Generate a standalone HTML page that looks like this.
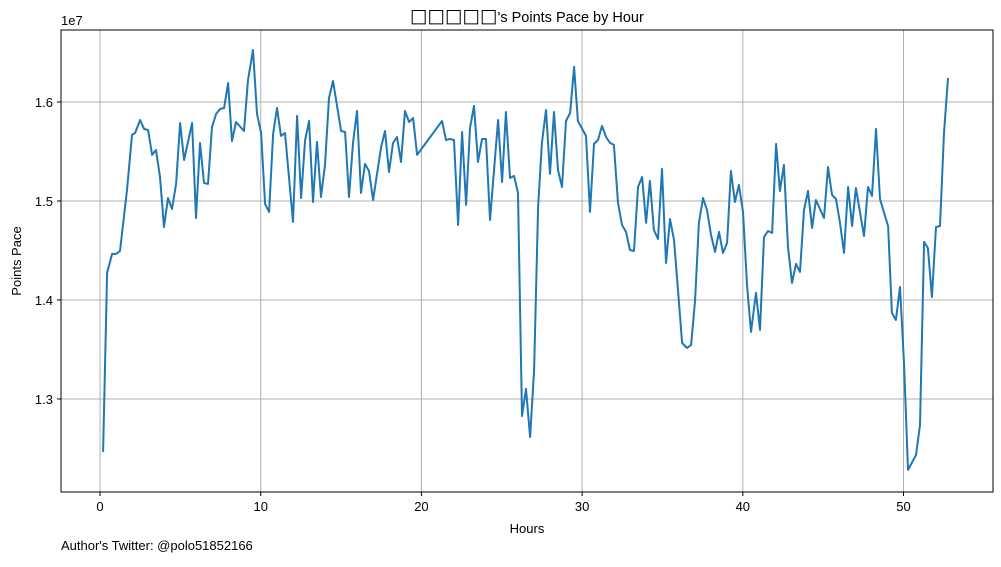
<!DOCTYPE html>
<html><head><meta charset="utf-8"><style>
body{margin:0;background:#fff;width:1001px;height:562px;overflow:hidden}
svg text{font-family:"Liberation Sans","DejaVu Sans",sans-serif;fill:#000}
</style></head><body>
<svg id="chart" width="1001" height="562" xmlns="http://www.w3.org/2000/svg">
<rect width="1001" height="562" fill="#fff"/>
<g id="grid"></g><g id="ticks"></g>
<path id="line" fill="none" stroke="#1f77b4" stroke-width="2" stroke-linejoin="round"/>
<rect x="61" y="30" width="932" height="462" fill="none" stroke="#000" stroke-width="1"/>
<text x="527" y="22" text-anchor="middle" font-size="14.5"><tspan font-size="18.5" font-family="DejaVu Sans">□□□□□</tspan>'s Points Pace by Hour</text>
<text x="527" y="533" text-anchor="middle" font-size="13">Hours</text>
<text transform="translate(21,261) rotate(-90)" text-anchor="middle" font-size="13">Points Pace</text>
<text x="61" y="25" font-size="13">1e7</text>
<text x="61" y="550" font-size="13">Author's Twitter: @polo51852166</text>
</svg>
<script>
const hours=[0.19,0.44,0.75,1.0,1.24,1.68,1.99,2.18,2.49,2.74,2.99,3.24,3.48,3.73,3.98,4.23,4.48,4.73,4.98,5.23,5.73,5.97,6.22,6.47,6.72,6.97,7.22,7.47,7.72,7.97,8.21,8.46,8.96,9.21,9.52,9.77,10.02,10.27,10.52,10.77,11.01,11.26,11.51,12.01,12.26,12.51,12.76,13.01,13.25,13.5,13.75,14.0,14.25,14.5,15.0,15.25,15.49,15.74,15.99,16.24,16.49,16.74,16.99,17.49,17.73,17.98,18.23,18.48,18.73,18.98,19.23,19.48,19.73,21.28,21.53,21.78,22.03,22.28,22.53,22.78,23.02,23.27,23.52,23.77,24.02,24.27,24.77,25.02,25.26,25.51,25.76,26.01,26.26,26.51,26.76,27.01,27.26,27.5,27.75,28.0,28.25,28.5,28.75,29.0,29.25,29.5,29.74,30.24,30.49,30.74,30.99,31.24,31.49,31.74,31.98,32.23,32.48,32.73,32.98,33.23,33.48,33.73,33.98,34.22,34.47,34.72,34.97,35.22,35.47,35.72,35.97,36.22,36.53,36.78,37.03,37.27,37.52,37.77,38.02,38.27,38.52,38.77,39.02,39.26,39.51,39.76,40.01,40.26,40.51,40.82,41.07,41.32,41.57,41.82,42.07,42.31,42.56,42.81,43.06,43.31,43.56,43.81,44.06,44.31,44.55,45.05,45.3,45.55,45.8,46.05,46.3,46.55,46.8,47.04,47.54,47.79,48.04,48.29,48.54,48.79,49.04,49.28,49.53,49.78,50.03,50.28,50.78,51.03,51.28,51.52,51.77,52.02,52.27,52.52,52.77];
const paceE7=[1.2465,1.4273,1.4465,1.4465,1.4495,1.5111,1.5667,1.5687,1.5818,1.5727,1.5717,1.5465,1.5515,1.5242,1.4737,1.5030,1.4919,1.5172,1.5788,1.5414,1.5788,1.4828,1.5586,1.5182,1.5172,1.5747,1.5879,1.5929,1.5939,1.6192,1.5606,1.5798,1.5707,1.6222,1.6525,1.5879,1.5687,1.4970,1.4889,1.5677,1.5939,1.5657,1.5687,1.4788,1.5859,1.5030,1.5616,1.5808,1.4990,1.5596,1.5040,1.5364,1.6040,1.6212,1.5707,1.5697,1.5040,1.5586,1.5909,1.5081,1.5374,1.5303,1.5010,1.5545,1.5707,1.5293,1.5586,1.5646,1.5394,1.5909,1.5798,1.5838,1.5465,1.5808,1.5616,1.5626,1.5616,1.4758,1.5697,1.4960,1.5737,1.5960,1.5394,1.5626,1.5626,1.4808,1.5818,1.5192,1.5899,1.5232,1.5253,1.5081,1.2828,1.3101,1.2616,1.3293,1.4939,1.5586,1.5919,1.5273,1.5899,1.5313,1.5141,1.5808,1.5889,1.6354,1.5808,1.5657,1.4889,1.5576,1.5616,1.5758,1.5646,1.5586,1.5566,1.4980,1.4758,1.4687,1.4505,1.4495,1.5141,1.5242,1.4778,1.5202,1.4707,1.4616,1.5323,1.4374,1.4818,1.4606,1.4101,1.3566,1.3515,1.3545,1.4000,1.4778,1.5030,1.4909,1.4657,1.4485,1.4687,1.4475,1.4576,1.5303,1.4990,1.5162,1.4889,1.4152,1.3677,1.4071,1.3697,1.4636,1.4697,1.4677,1.5576,1.5101,1.5364,1.4535,1.4172,1.4364,1.4283,1.4909,1.5101,1.4727,1.5010,1.4828,1.5343,1.5061,1.5020,1.4778,1.4475,1.5141,1.4747,1.5131,1.4646,1.5141,1.5051,1.5727,1.5020,1.4879,1.4747,1.3869,1.3798,1.4131,1.3364,1.2283,1.2434,1.2737,1.4586,1.4525,1.4030,1.4737,1.4747,1.5687,1.6242];
const xTicks=[0,10,20,30,40,50];
const yTicks=[1.3,1.4,1.5,1.6];
const yTickLabels=["1.3","1.4","1.5","1.6"];

const L=61,R=993,T=30,B=492;
const xMin=-2.43,xMax=55.57,yMin=1.206,yMax=1.6727;
function sx(v){return L+(v-xMin)/(xMax-xMin)*(R-L);}
function sy(v){return B-(v-yMin)/(yMax-yMin)*(B-T);}
const NS="http://www.w3.org/2000/svg";
const grid=document.getElementById('grid'),ticks=document.getElementById('ticks');
function mk(tag,attrs,parent){const e=document.createElementNS(NS,tag);for(const k in attrs)e.setAttribute(k,attrs[k]);parent.appendChild(e);return e;}
xTicks.forEach(function(t){
  const x=sx(t);
  const g=mk('line',{x1:x,x2:x,y1:T,y2:B,stroke:'#b0b0b0','stroke-width':1},grid);
  
  
  const tk=mk('line',{x1:x,x2:x,y1:B,y2:B+4,stroke:'#000'},ticks);
  
  
  const tx=mk('text',{x:x,y:B+19,'text-anchor':'middle','font-size':13},ticks);
  tx.textContent=String(t);
  
  
});
yTicks.forEach(function(t,i){
  const y=sy(t);
  const g=mk('line',{x1:L,x2:R,y1:y,y2:y,stroke:'#b0b0b0','stroke-width':1},grid);
  
  
  const tk=mk('line',{x1:L-4,x2:L,y1:y,y2:y,stroke:'#000'},ticks);
  
  
  const tx=mk('text',{x:L-8,y:y+5,'text-anchor':'end','font-size':13},ticks);
  tx.textContent=yTickLabels[i];
  
  
});
let d='';
hours.forEach(function(h,i){d+=(i?'L':'M')+sx(h).toFixed(1)+','+sy(paceE7[i]).toFixed(1);});
document.getElementById('line').setAttribute('d',d);
</script>
</body></html>
